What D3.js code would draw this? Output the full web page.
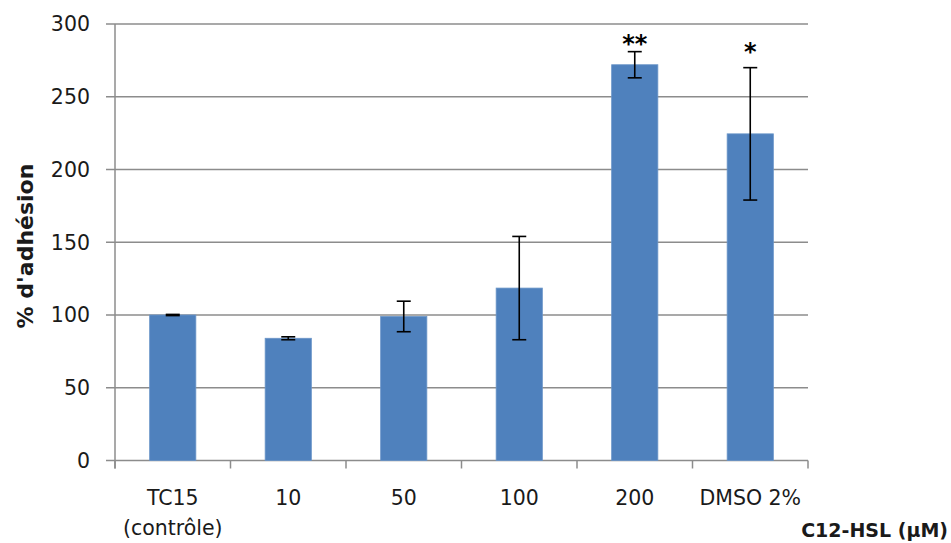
<!DOCTYPE html>
<html><head><meta charset="utf-8">
<script src="https://cdn.jsdelivr.net/npm/d3@7"></script>
<style>body{margin:0;background:#fff}svg{display:block}</style>
</head><body><svg id="c" width="951" height="543"></svg>
<script>
const categories = ["TC15\n(contrôle)", "10", "50", "100", "200", "DMSO 2%"];
const values = [100, 84, 99, 118.5, 272, 224.5];
const errors = [0.4, 1, 10.5, 35.5, 9, 45.5];
const significance = ["", "", "", "", "**", "*"];
const significanceAt = [null, null, null, null, 281, 275.5];
const yTicks = [0, 50, 100, 150, 200, 250, 300];
const yTitle = "% d'adhésion";
const xTitle = "C12-HSL (µM)";

(function () {
const svg = d3.select("#c");
const mLeft = 115, mRight = 808, mTop = 24, mBottom = 460.5;
const font = "DejaVu Sans, sans-serif";
const grey = "#8c8c8c";
const textCol = "#1a1a1a";

const x = d3.scaleBand().domain(categories).range([mLeft, mRight]).paddingInner(0.6).paddingOuter(0.3);
const y = d3.scaleLinear().domain([0, 300]).range([mBottom, mTop]);

// gridlines + y ticks
svg.append("g").selectAll("line").data(yTicks).join("line")
  .attr("x1", mLeft - 9).attr("x2", mRight)
  .attr("y1", d => y(d)).attr("y2", d => y(d))
  .attr("stroke", grey).attr("stroke-width", 1.5);

// y axis line
svg.append("line").attr("x1", mLeft).attr("x2", mLeft).attr("y1", y(300)).attr("y2", mBottom + 8)
  .attr("stroke", grey).attr("stroke-width", 1.5);

// x ticks at category boundaries
const step = x.step();
const bounds = d3.range(categories.length + 1).map(i => mLeft + i * step);
svg.append("g").selectAll("line").data(bounds).join("line")
  .attr("x1", d => d).attr("x2", d => d).attr("y1", mBottom).attr("y2", mBottom + 8)
  .attr("stroke", grey).attr("stroke-width", 1.5);

// y tick labels
svg.append("g").selectAll("text").data(yTicks).join("text")
  .attr("x", 90).attr("y", d => y(d)).attr("dy", "0.36em")
  .attr("text-anchor", "end").attr("font-family", font).attr("font-size", 20.5)
  .attr("fill", textCol).text(d => d);

// bars
const data = categories.map((c, i) => ({c, v: values[i], e: errors[i], s: significance[i], sy: significanceAt[i]}));
svg.append("g").selectAll("rect").data(data).join("rect")
  .attr("x", d => x(d.c)).attr("width", x.bandwidth())
  .attr("y", d => y(d.v)).attr("height", d => y(0) - y(d.v))
  .attr("fill", "#4f81bd").attr("stroke", "#6a95c8").attr("stroke-width", 0.8);

// error bars
const eb = svg.append("g").attr("stroke", "#000").attr("stroke-width", 1.6);
data.forEach(d => {
  const cx = x(d.c) + x.bandwidth() / 2;
  const y1 = y(d.v + d.e), y2 = y(d.v - d.e);
  eb.append("line").attr("x1", cx).attr("x2", cx).attr("y1", y1).attr("y2", y2);
  eb.append("line").attr("x1", cx - 7).attr("x2", cx + 7).attr("y1", y1).attr("y2", y1);
  eb.append("line").attr("x1", cx - 7).attr("x2", cx + 7).attr("y1", y2).attr("y2", y2);
});

// significance stars
svg.append("g").selectAll("text").data(data.filter(d => d.s)).join("text")
  .attr("x", d => x(d.c) + x.bandwidth() / 2).attr("y", d => y(d.sy))
  .attr("text-anchor", "middle").attr("font-family", font).attr("font-size", 24)
  .attr("font-weight", "bold").attr("fill", "#000").text(d => d.s);

// x labels
const xl = svg.append("g").selectAll("text").data(categories).join("text")
  .attr("y", 505)
  .attr("text-anchor", "middle").attr("font-family", font).attr("font-size", 20.5)
  .attr("fill", textCol);
xl.each(function(d) {
  d.split("\n").forEach((t, i) => {
    d3.select(this).append("tspan").attr("x", x(d) + x.bandwidth() / 2)
      .attr("dy", i === 0 ? 0 : 30).text(t);
  });
});

// axis titles
svg.append("text").attr("transform", "translate(33,246) rotate(-90)")
  .attr("text-anchor", "middle").attr("font-family", font).attr("font-weight", "bold")
  .attr("font-size", 22).attr("fill", textCol).text(yTitle);
svg.append("text").attr("x", 948).attr("y", 537).attr("text-anchor", "end")
  .attr("font-family", font).attr("font-weight", "bold").attr("font-size", 19)
  .attr("fill", textCol).text(xTitle);
})();
</script></body></html>
